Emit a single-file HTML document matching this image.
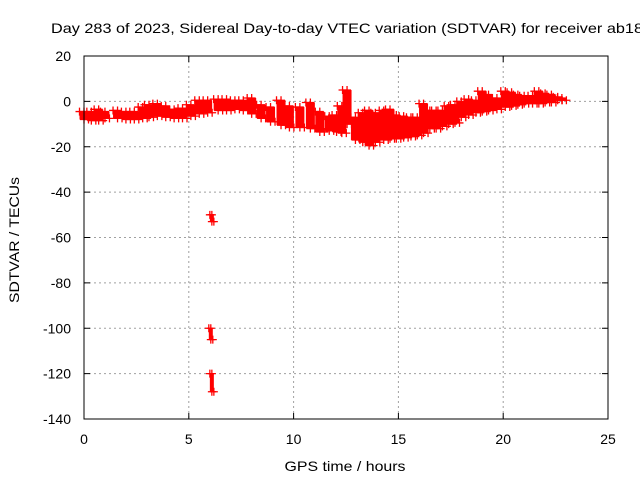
<!DOCTYPE html>
<html><head><meta charset="utf-8"><style>
body{margin:0;background:#fff;width:640px;height:480px;overflow:hidden}
svg text{font-family:"Liberation Sans",sans-serif;font-size:14px;fill:#000}
</style></head><body>
<svg id="chart" width="640" height="480" xmlns="http://www.w3.org/2000/svg">
<text x="51" y="33" textLength="592" lengthAdjust="spacingAndGlyphs">Day 283 of 2023, Sidereal Day-to-day VTEC variation (SDTVAR) for receiver ab18</text>
<text transform="translate(19,240) rotate(-90)" text-anchor="middle" textLength="126" lengthAdjust="spacingAndGlyphs">SDTVAR / TECUs</text>
<text x="345" y="471" text-anchor="middle" textLength="121" lengthAdjust="spacingAndGlyphs">GPS time / hours</text>
<g id="grid"></g><g id="marks"></g><g id="axes"></g>
</svg>
<script>
const xTicks=[0,5,10,15,20,25];
const yTicks=[20,0,-20,-40,-60,-80,-100,-120,-140];
const times=[0,0.35,0.7,1.0,1.6,2.0,2.4,2.8,3.1,3.5,3.9,4.3,4.7,5.1,5.5,5.9,6.4,6.8,7.2,7.6,8.0,8.45,8.9,9.4,9.8,10.3,10.8,11.25,11.7,12.05,12.3,12.55,12.95,13.3,13.6,13.9,14.3,14.6,14.9,15.25,15.6,15.9,16.2,16.5,16.8,17.1,17.4,17.7,18.0,18.35,18.7,19.0,19.3,19.7,20.1,20.4,20.7,21.0,21.4,21.7,22.0,22.3,22.6,22.8];
const lowVals=[-8,-8.5,-8.5,-7.5,-7.5,-8,-8,-7.5,-7,-6.5,-7,-7.5,-7.5,-6.5,-5.5,-5,-4,-4,-3.5,-4,-5.5,-7.5,-9,-10.5,-11.5,-11.5,-12,-13.5,-13,-13.5,-14,-10,-17,-18,-19.5,-18,-17,-16.5,-16.5,-16,-15.5,-15,-14,-12,-12,-11,-10,-9.5,-7,-6,-5,-4.5,-4,-3.5,-2.5,-2,-1.5,-1,-1,-1,-0.5,-0.5,0.5,0.5];
const highVals=[-4.5,-4.5,-3.5,-4.5,-4,-4.5,-4.5,-2.5,-1.5,-1,-2,-3.5,-3,-1.5,0.5,0.5,1,1,0.5,0.5,1.5,-1.5,-2.5,0.5,-2,-2.5,-0.5,-4.5,-6.5,-6,-2,5,-7,-5,-4,-5,-4,-3.5,-6,-6.5,-7,-7,-1,-4,-4,-4,-2,-1.5,0,1,0.5,4.5,3,1.5,4.5,4,3,2.5,2.5,4.5,3.5,3,2,1.5];
const outTimes=[6.1,6.05,6.1];
const outLow=[-53,-105,-128];
const outHigh=[-50,-100,-120];
const X0=84,X1=608,Y0=56,Y1=419;
const xs=t=>X0+t/25*(X1-X0);
const ys=v=>Y0+(20-v)/160*(Y1-Y0);
const NS='http://www.w3.org/2000/svg';
function mk(tag,parent,attrs){const e=document.createElementNS(NS,tag);for(const k in attrs)e.setAttribute(k,attrs[k]);parent.appendChild(e);return e;}
const grid=document.getElementById('grid'),marks=document.getElementById('marks'),axes=document.getElementById('axes');
xTicks.forEach(t=>{const x=xs(t);
 if(t>0&&t<25){const g=mk('line',grid,{x1:x,x2:x,y1:Y0,y2:Y1,stroke:'#a0a0a0','stroke-dasharray':'2,3'});}
 const l=mk('text',axes,{x:x,y:Y1+25,'text-anchor':'middle'});l.textContent=t;
 
 
 mk('line',axes,{x1:x,x2:x,y1:Y1,y2:Y1-6,stroke:'#000'});mk('line',axes,{x1:x,x2:x,y1:Y0,y2:Y0+6,stroke:'#000'});
});
yTicks.forEach(v=>{const y=ys(v);
 if(v<20&&v>-140){const g=mk('line',grid,{x1:X0,x2:X1,y1:y,y2:y,stroke:'#a0a0a0','stroke-dasharray':'2,3'});}
 const l=mk('text',axes,{x:X0-13,y:y+5,'text-anchor':'end'});l.textContent=v;
 
 
 mk('line',axes,{x1:X0,x2:X0+6,y1:y,y2:y,stroke:'#000'});mk('line',axes,{x1:X1,x2:X1-6,y1:y,y2:y,stroke:'#000'});
});
const fr=mk('rect',axes,{x:X0,y:Y0,width:X1-X0,height:Y1-Y0,fill:'none',stroke:'#000'});


function plus(x,y){mk('path',marks,{d:`M${x-4},${y}h8M${x},${y-4}v8`,stroke:'#f00','stroke-width':1.3});}
function band(t,lo,hi,w){const x=xs(t),yt=ys(hi),yb=ys(lo);
 const r=mk('rect',marks,{x:x-w/2,y:yt,width:w,height:Math.max(1,yb-yt),fill:'#f00'});
 
 
 plus(x-w/2,yt);plus(x+w/2,yb);plus(x,yt);plus(x,yb);}
times.forEach((t,i)=>band(t,lowVals[i],highVals[i],9));
outTimes.forEach((t,i)=>band(t,outLow[i],outHigh[i],4));
</script>
</body></html>
